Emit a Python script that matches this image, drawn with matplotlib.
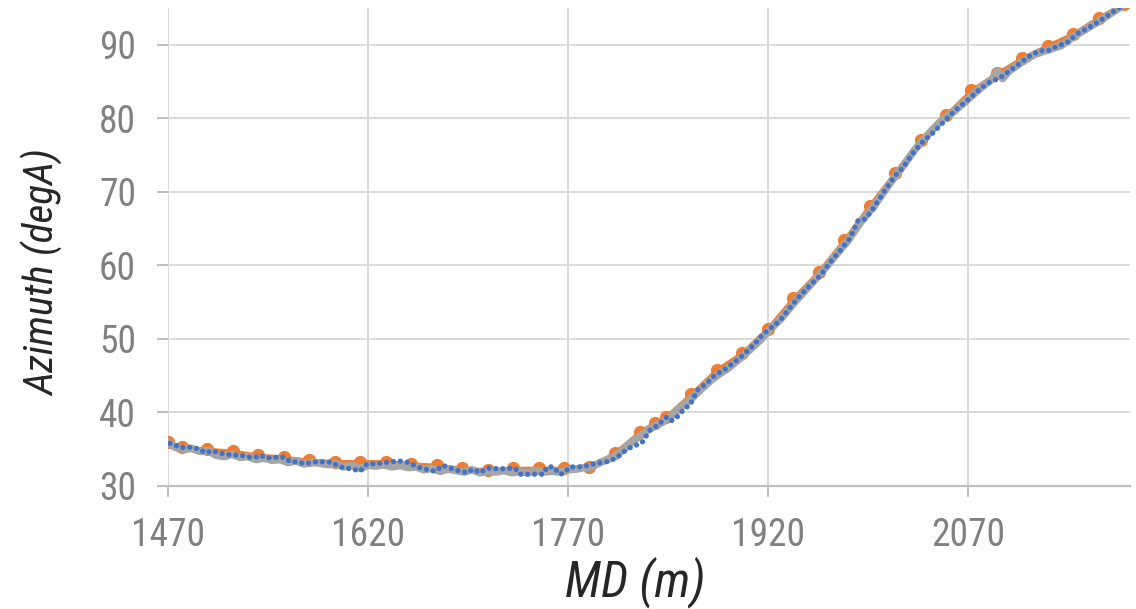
import matplotlib
matplotlib.use("Agg")
from matplotlib import pyplot as plt
from matplotlib import font_manager

# survey stations (orange)
survey_md = [1470.0, 1480.5, 1499.6, 1518.7, 1537.8, 1556.9, 1576.0, 1595.1, 1614.2, 1633.3,
             1652.4, 1671.5, 1690.6, 1709.7, 1728.8, 1747.9, 1767.0, 1786.1, 1805.2, 1824.3,
             1835.0, 1843.4, 1862.5, 1881.6, 1900.7, 1919.8, 1938.9, 1958.0, 1977.1, 1996.2,
             2015.3, 2034.4, 2053.5, 2072.6, 2091.7, 2110.8, 2129.9, 2149.0, 2168.1, 2187.2,
             2206.3]
survey_az = [36.0, 35.3, 35.0, 34.7, 34.2, 33.9, 33.5, 33.3, 33.3, 33.3,
             33.0, 32.8, 32.4, 32.2, 32.4, 32.4, 32.4, 32.6, 34.5, 37.4,
             38.6, 39.4, 42.5, 45.8, 48.1, 51.4, 55.5, 59.1, 63.4, 68.1,
             72.6, 77.0, 80.4, 83.8, 86.1, 88.2, 89.9, 91.5, 93.7, 95.6,
             97.5]

# raw continuous azimuth (gray)
raw_md = [1470, 1476, 1482, 1488, 1494, 1500, 1506, 1512, 1518, 1524, 1530, 1536, 1542, 1548,
          1554, 1560, 1566, 1572, 1578, 1584, 1590, 1596, 1602, 1608, 1614, 1620, 1626, 1632,
          1638, 1644, 1650, 1656, 1662, 1668, 1674, 1680, 1686, 1692, 1698, 1704, 1710, 1716,
          1722, 1728, 1734, 1740, 1746, 1752, 1758, 1764, 1770, 1776, 1782, 1788, 1794, 1800,
          1806, 1812, 1818, 1824, 1830, 1836, 1842, 1848, 1854, 1860, 1866, 1872, 1878, 1884,
          1890, 1896, 1902, 1908, 1914, 1920, 1930, 1940, 1950, 1960, 1970, 1980, 1990, 2000,
          2010, 2020, 2030, 2040, 2050, 2060, 2070, 2080, 2088, 2092, 2096, 2100, 2110, 2120,
          2130, 2140, 2150, 2160, 2170, 2180, 2190, 2200]
raw_az = [35.9, 35.2, 35.0, 35.1, 34.7, 34.8, 34.2, 34.0, 34.3, 33.9, 34.0, 33.6, 33.8, 33.5,
          33.6, 33.2, 33.4, 33.0, 33.2, 33.1, 32.9, 33.0, 32.6, 32.8, 32.4, 32.8, 32.7, 32.9,
          32.6, 32.8, 32.5, 32.6, 32.2, 32.4, 32.0, 32.3, 32.1, 31.9, 32.2, 31.8, 32.0, 31.9,
          32.1, 31.8, 32.0, 31.8, 32.1, 31.9, 32.0, 31.9, 32.2, 32.3, 32.5, 32.6, 33.2, 33.6,
          34.2, 35.0, 36.0, 36.8, 37.6, 38.2, 38.8, 39.6, 40.6, 41.5, 42.5, 43.5, 44.5, 45.3,
          46.0, 46.9, 47.8, 48.8, 49.8, 51.0, 52.8, 55.0, 57.0, 59.0, 61.2, 63.4, 66.0, 68.2,
          70.8, 73.2, 75.7, 77.8, 79.7, 81.0, 82.6, 84.2, 85.3, 86.4, 85.4, 86.3, 87.6, 88.7,
          89.3, 89.9, 91.2, 92.3, 93.4, 94.6, 95.8, 97.0]

# processed azimuth (blue)
proc_md = [1471.5, 1475.3, 1479.0, 1485.0, 1488.8, 1494.0, 1497.8, 1503.8, 1507.5, 1514.3,
           1518.0, 1524.0, 1531.5, 1535.3, 1539.0, 1544.3, 1548.8, 1557.8, 1561.5, 1566.8,
           1571.3, 1574.3, 1581.8, 1590.0, 1593.8, 1599.0, 1604.3, 1608.8, 1614.0, 1619.3,
           1623.8, 1630.5, 1636.5, 1646.3, 1651.5, 1656.8, 1661.3, 1665.0, 1670.3, 1676.3,
           1685.3, 1694.3, 1698.8, 1704.0, 1709.3, 1713.8, 1719.0, 1724.3, 1730.3, 1734.0,
           1739.3, 1743.8, 1751.3, 1754.3, 1758.8, 1764.0, 1766.3, 1771.5, 1776.8, 1781.3,
           1786.5, 1791.8, 1796.3, 1801.5, 1806.8, 1811.3, 1816.5, 1821.8, 1825.5, 1831.5,
           1837.5, 1844.3, 1848.0, 1852.5, 1857.8, 1861.5, 1866.8, 1874.3, 1880.3, 1886.3,
           1893.8, 1901.3, 1908.8, 1912.5, 1915.5, 1921.5, 1929.0, 1938.0, 1944.0, 1951.5,
           1959.0, 1966.5, 1974.0, 1981.5, 1987.5, 1992.8, 1998.0, 2007.0, 2015.3, 2021.3,
           2028.8, 2036.0, 2043.0, 2049.0, 2056.5, 2061.8, 2069.3, 2079.0, 2085.0, 2094.0,
           2101.5, 2109.0, 2116.5, 2124.0, 2130.0, 2136.8, 2144.3, 2151.8, 2159.3, 2166.8,
           2176.5, 2190.0, 2200.0]
proc_az = [35.8, 35.6, 35.2, 35.3, 35.2, 35.0, 34.5, 34.8, 34.5, 34.3,
           34.2, 34.2, 33.9, 33.9, 34.2, 33.8, 33.9, 33.9, 33.3, 33.3,
           33.1, 33.1, 33.3, 33.3, 33.1, 32.6, 32.4, 32.3, 32.0, 33.0,
           33.0, 33.1, 33.3, 33.4, 33.1, 32.6, 32.4, 32.2, 32.0, 32.8,
           32.2, 31.8, 32.3, 31.8, 32.4, 32.4, 32.3, 32.4, 32.4, 31.6,
           31.6, 31.6, 31.6, 32.6, 32.6, 31.6, 31.7, 32.6, 32.6, 32.6,
           32.9, 33.1, 33.2, 33.4, 33.9, 34.6, 35.2, 35.6, 35.9, 37.6,
           38.3, 39.4, 38.9, 39.5, 40.6, 41.0, 43.0, 44.0, 45.1, 45.7,
           46.7, 47.8, 49.1, 49.8, 50.5, 51.4, 52.5, 54.6, 55.9, 57.3,
           58.6, 60.4, 62.0, 63.7, 66.1, 66.3, 67.5, 70.0, 72.2, 73.3,
           75.3, 76.8, 77.9, 79.0, 80.4, 81.3, 82.4, 84.0, 84.8, 85.5,
           86.5, 87.5, 88.5, 89.2, 89.2, 89.8, 90.3, 91.5, 92.2, 93.0,
           94.2, 95.8, 97.0]

x_ticks = [1470, 1620, 1770, 1920, 2070]
y_ticks = [30, 40, 50, 60, 70, 80, 90]

tick_grey = "#808080"
grid_grey = "#d9d9d9"

installed = {f.name for f in font_manager.fontManager.ttflist}
narrow = [n for n in ["Liberation Sans Narrow", "Roboto Condensed", "Open Sans Condensed"]
          if n in installed]
plt.rcParams["font.family"] = narrow + ["Liberation Sans", "DejaVu Sans"]

fig = plt.figure(figsize=(11.36, 6.09), dpi=100)
ax = fig.add_axes([168 / 1136, 1 - 486 / 609, (1130 - 168) / 1136, (486 - 8) / 609])

ax.plot(survey_md, survey_az, color="#ED7D31", lw=2.4, marker="o", ms=8.5,
        mec="#ED7D31", mfc="#ED7D31", zorder=3)
ax.plot(raw_md, raw_az, color="#A5A5A5", lw=5.5, solid_joinstyle="round", zorder=4)
ax.plot(proc_md, proc_az, color="#4472C4", lw=3.8, linestyle=(0, (0.01, 1.3)),
        dash_capstyle="round", zorder=5)

ax.set_xlim(1470, 2191.5)
ax.set_ylim(30, 95)
ax.set_xticks(x_ticks)
ax.set_yticks(y_ticks)

ax.grid(True, color=grid_grey, lw=1.4)
ax.set_axisbelow(True)
for side in ["top", "right", "left"]:
    ax.spines[side].set_visible(False)
ax.spines["bottom"].set_color("#bfbfbf")
ax.spines["bottom"].set_linewidth(1.6)

ax.tick_params(axis="both", color="#bfbfbf", width=1.4, length=8,
               labelcolor=tick_grey, labelsize=27 if narrow else 23)
ax.tick_params(axis="x", pad=14)
ax.tick_params(axis="y", pad=15)

label_kw = dict(ha="center", va="center", fontsize=30, style="italic", color="#262626")
xlab = fig.text(635 / 1136, 1 - 582 / 609, "MD (m)", **label_kw)
ylab = fig.text(43 / 1136, 1 - 273 / 609, "Azimuth (degA)", rotation=90, **label_kw)

# size the axis titles so their lengths match the reference
renderer = fig.canvas.get_renderer()
w = xlab.get_window_extent(renderer).width
xlab.set_fontsize(30 * 140 / w)
h = ylab.get_window_extent(renderer).height
ylab.set_fontsize(30 * 246 / h)

plt.savefig("out.png", dpi=100)
